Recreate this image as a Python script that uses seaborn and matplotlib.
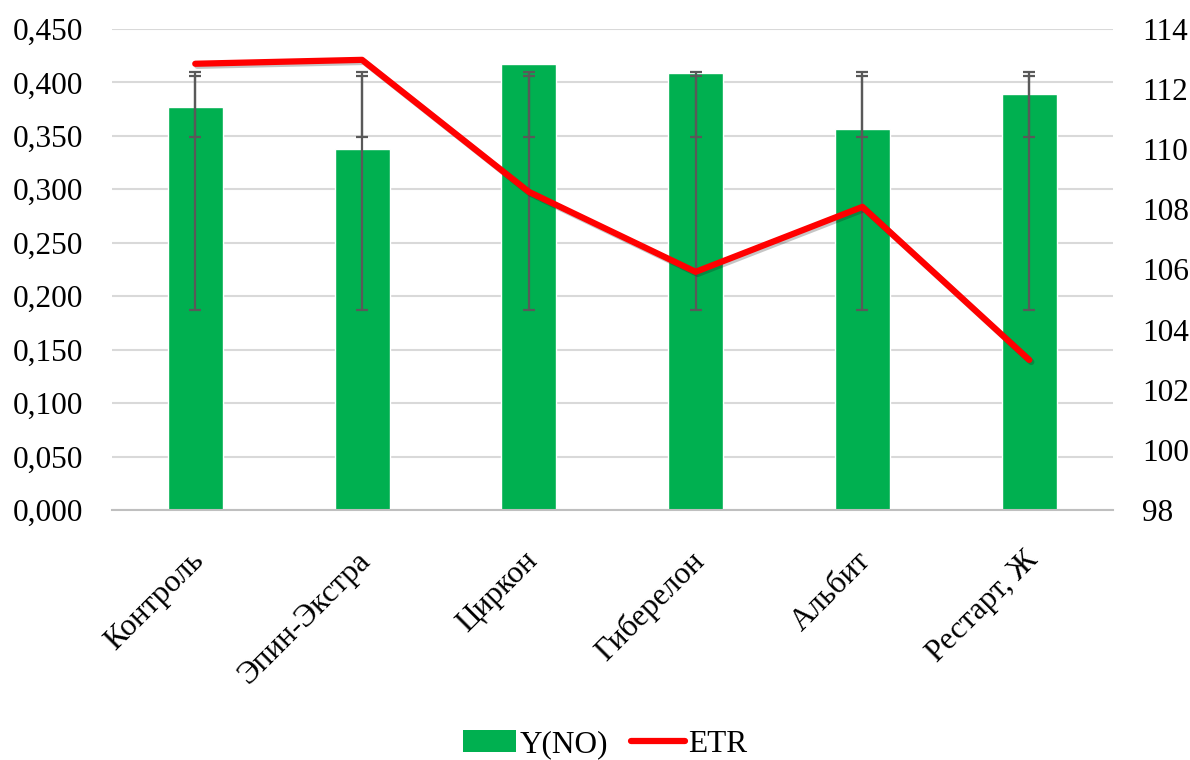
import numpy as np
import pandas as pd
import matplotlib
matplotlib.use("Agg")
import matplotlib.pyplot as plt
import matplotlib.patheffects as pe
import matplotlib.transforms as mtrans
import seaborn as sns
from matplotlib.patches import Patch
from matplotlib.lines import Line2D
from matplotlib.ticker import FuncFormatter, MultipleLocator

categories = ["Контроль", "Эпин-Экстра", "Циркон", "Гиберелон", "Альбит", "Рестарт, Ж"]
y_no = [0.377, 0.338, 0.417, 0.409, 0.356, 0.389]
etr = [112.84, 112.97, 108.58, 105.92, 108.08, 102.99]
# error bar bounds (two overlapping error series)
err_a_low = [0.187, 0.187, 0.187, 0.187, 0.187, 0.187]
err_a_high = [0.406, 0.406, 0.406, 0.406, 0.406, 0.406]
err_b_low = [0.349, 0.349, 0.349, 0.349, 0.349, 0.349]
err_b_high = [0.410, 0.410, 0.410, 0.410, 0.410, 0.410]

sns.set_theme(style="white")
plt.rcParams['font.family'] = ['Liberation Serif', 'DejaVu Serif']
plt.rcParams['text.color'] = 'black'

FS = 22.5

fig = plt.figure(figsize=(11.9, 7.6), dpi=100)
ax = fig.add_axes([0.094, 0.329, 0.841, 0.633])

df = pd.DataFrame({"cat": categories, "val": y_no})
sns.barplot(data=df, x="cat", y="val", color="#00B050", saturation=1,
            width=0.33, ax=ax, zorder=2)

x = np.arange(len(categories))
for lo, hi in [(err_a_low, err_a_high), (err_b_low, err_b_high)]:
    lo = np.array(lo); hi = np.array(hi)
    mid = (lo + hi) / 2
    ax.errorbar(x, mid, yerr=[mid - lo, hi - mid], fmt="none", ecolor="#595959",
                elinewidth=1.6, capsize=4.5, capthick=1.6, zorder=3)

ax.set_ylim(0, 0.45)
ax.yaxis.set_major_locator(MultipleLocator(0.05))
ax.yaxis.set_major_formatter(FuncFormatter(lambda v, p: f"{v:.3f}".replace(".", ",")))
ax.grid(axis="y", color="#D9D9D9", linewidth=1.5, zorder=0)
ax.set_axisbelow(True)
ax.set_xlabel("")
ax.set_ylabel("")
for s in ["top", "right", "left"]:
    ax.spines[s].set_visible(False)
ax.spines["bottom"].set_color("#BFBFBF")
ax.spines["bottom"].set_linewidth(1.5)
ax.set_xlim(-0.5, len(categories) - 0.5)
ax.tick_params(axis="y", labelsize=FS, length=0, pad=21, colors="black")
ax.tick_params(axis="x", labelsize=FS, length=0, pad=26, colors="black")
ax.set_xticks(x)
ax.set_xticklabels(categories, rotation=45, ha="right", rotation_mode="anchor")
shift = mtrans.ScaledTranslation(-6 / 100, 0, fig.dpi_scale_trans)
for lbl in ax.get_xticklabels():
    lbl.set_transform(lbl.get_transform() + shift)

ax2 = ax.twinx()
sns.lineplot(x=x, y=etr, ax=ax2, color="#FF0000", linewidth=4.5, sort=False,
             zorder=4)
for ln in ax2.get_lines():
    ln.set_solid_capstyle("round")
    ln.set_solid_joinstyle("round")
    ln.set_path_effects([pe.SimpleLineShadow(offset=(1.5, -1.5), alpha=0.25), pe.Normal()])
ax2.set_ylim(98, 114)
ax2.yaxis.set_major_locator(MultipleLocator(2))
ax2.yaxis.set_major_formatter(FuncFormatter(lambda v, p: f"{v:.0f}"))
for s in ["top", "right", "left", "bottom"]:
    ax2.spines[s].set_visible(False)
ax2.tick_params(axis="y", labelsize=FS, length=0, pad=21, colors="black")
ax2.set_ylabel("")
ax2.grid(False)

handles = [Patch(facecolor="#00B050", edgecolor="none"),
           Line2D([0], [0], color="#FF0000", linewidth=4.5, solid_capstyle="round")]
fig.legend(handles, ["Y(NO)", "ETR"], loc="center", bbox_to_anchor=(0.5084, 0.02),
           ncol=2, frameon=False, fontsize=FS, handlelength=1.7, handletextpad=0.1,
           columnspacing=0.75)

fig.savefig("out.png", dpi=100)
